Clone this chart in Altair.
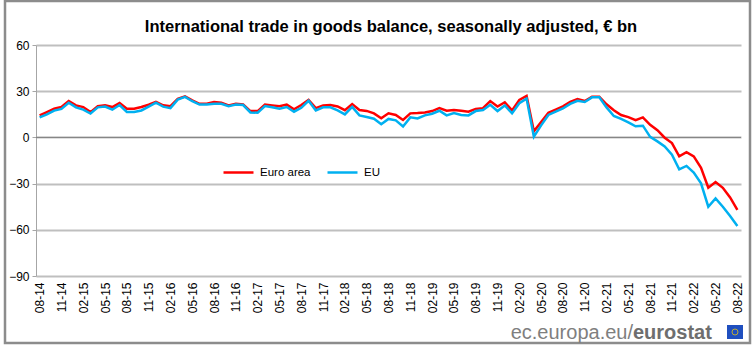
import altair as alt
import pandas as pd

# Monthly categories 08-14 ... 08-22
months = []
yy, mm = 14, 8
for _ in range(97):
    months.append(f"{mm:02d}-{yy:02d}")
    mm += 1
    if mm > 12:
        mm = 1
        yy += 1
tick_labels = months[::3]

title_text = "International trade in goods balance, seasonally adjusted, € bn"

euro_area = [
    14.3, 16.4, 18.6, 19.7, 23.6, 20.8, 19.7, 16.4, 20.3, 20.8, 19.7, 22.3, 18.6, 18.6, 19.7, 21.2,
    23.0, 20.8, 20.3, 25.1, 26.6, 24.0, 21.8, 21.8, 22.9, 22.5, 20.8, 21.8, 21.4, 17.1, 17.1, 21.4,
    20.8, 20.2, 21.3, 18.3, 21.0, 24.3, 19.0, 20.8, 21.0, 20.1, 17.7, 21.6, 17.8, 17.2, 15.6, 12.4,
    15.7, 14.6, 11.3, 15.6, 15.8, 16.2, 17.1, 19.0, 17.3, 17.8, 17.3, 16.7, 18.5, 19.0, 23.6, 20.0,
    22.8, 17.5, 24.3, 27.0, 4.0, 10.0, 16.0, 18.1, 20.2, 23.0, 24.9, 23.6, 26.4, 26.4, 21.5, 17.6,
    14.5, 13.2, 11.2, 13.0, 8.2, 4.7, -0.2, -3.7, -12.3, -9.6, -12.3, -19.8, -32.7, -29.0, -32.7, -39.0,
    -47.0,
]
eu = [
    13.0, 15.0, 17.4, 18.5, 22.5, 19.5, 18.0, 15.5, 19.5, 20.0, 18.0, 21.0, 16.5, 16.5, 17.5, 20.0,
    22.5, 20.0, 19.0, 24.5, 26.3, 23.5, 21.3, 21.3, 21.8, 21.8, 20.3, 21.3, 21.0, 16.2, 16.0, 20.3,
    19.6, 18.6, 19.7, 16.7, 19.2, 23.8, 17.5, 19.5, 19.5, 17.5, 14.9, 19.8, 14.3, 13.3, 12.1, 8.5,
    12.0, 11.1, 7.1, 13.0, 12.3, 14.3, 15.4, 17.3, 14.3, 15.8, 14.5, 14.3, 17.1, 17.8, 21.2, 17.1,
    20.7, 15.6, 22.2, 25.2, 0.5, 7.8, 14.6, 16.7, 18.8, 21.7, 23.8, 23.0, 26.0, 26.0, 19.5, 13.9,
    12.0, 9.8, 7.2, 7.6, 0.3, -2.6, -5.9, -11.3, -20.7, -18.5, -22.8, -29.8, -45.0, -39.6, -45.0, -51.0,
    -57.5,
]
series_names = ["Euro area", "EU"]
series_colors = ["#ff0000", "#00b0f0"]
y_ticks = [-90, -60, -30, 0, 30, 60]

df = pd.DataFrame({
    "month": months * 2,
    "value": euro_area + eu,
    "series": [series_names[0]] * len(months) + [series_names[1]] * len(months),
})

FONT = "Liberation Sans"
W, H = 705, 231

x_enc = alt.X(
    "month:O", sort=months,
    scale=alt.Scale(type="point", padding=0.5),
    axis=alt.Axis(values=tick_labels, labelAngle=270, ticks=False, domain=False, grid=False,
                  labelFontSize=12, labelFont=FONT, labelColor="black", labelPadding=6,
                  title=None),
)
y_axis = alt.Axis(values=y_ticks, grid=True, gridColor="#bfbfbf", gridWidth=2,
                  domain=True, domainColor="#a6a6a6", domainWidth=1,
                  ticks=True, tickColor="#a6a6a6", tickSize=4,
                  labelFontSize=12, labelFont=FONT, labelColor="black", labelPadding=3,
                  title=None)
y_scale = alt.Scale(domain=[-90, 60], nice=False, zero=False)
y_enc = alt.Y("value:Q", scale=y_scale, axis=y_axis)
color_enc = alt.Color(
    "series:N",
    scale=alt.Scale(domain=series_names, range=series_colors),
    legend=alt.Legend(orient="none", legendX=186, legendY=111, direction="horizontal",
                      title=None, symbolType="stroke", symbolSize=900, symbolStrokeWidth=2.5,
                      labelFontSize=11.5, labelFont=FONT, labelColor="black",
                      columnPadding=11, labelOffset=5, padding=0),
)

zero_rule = alt.Chart(pd.DataFrame({"value": [0]})).mark_rule(
    color="#808080", strokeWidth=1
).encode(y=y_enc)

base = alt.Chart(df)
red_line = base.transform_filter(alt.datum.series == series_names[0]).mark_line(
    strokeWidth=2.5).encode(x=x_enc, y=y_enc, color=color_enc)
blue_line = base.transform_filter(alt.datum.series == series_names[1]).mark_line(
    strokeWidth=2.5).encode(x=x_enc, y=y_enc, color=color_enc)

one = alt.Data(values=[{"k": 1}])
title_mark = alt.Chart(one).mark_text(align="center", baseline="middle", fontSize=16.5, font=FONT,
                                      fontWeight="bold", color="black").encode(
    x=alt.value(355), y=alt.value(-18), text=alt.value(title_text)
)
frame = alt.Chart(one).mark_rect(fillOpacity=0, stroke="#8c8c8c", strokeWidth=2.5).encode(
    x=alt.value(-31), x2=alt.value(714), y=alt.value(-44), y2=alt.value(298)
)
footer1 = alt.Chart(one).mark_text(align="right", baseline="alphabetic", fontSize=20, font=FONT,
                                   color="#7f7f7f").encode(
    x=alt.value(597), y=alt.value(294), text=alt.value("ec.europa.eu/")
)
footer2 = alt.Chart(one).mark_text(align="left", baseline="alphabetic", fontSize=20, font=FONT,
                                   fontWeight="bold", color="#6e6e6e").encode(
    x=alt.value(597), y=alt.value(294), text=alt.value("eurostat")
)
flag = alt.Chart(one).mark_rect(fill="#1f4fbf").encode(
    x=alt.value(691), x2=alt.value(707), y=alt.value(280), y2=alt.value(294)
)
flag_ring = alt.Chart(one).mark_point(shape="circle", size=36, stroke="#ffd200", strokeWidth=1,
                                      filled=False).encode(
    x=alt.value(699), y=alt.value(287)
)

chart = alt.layer(zero_rule, red_line, blue_line, title_mark, frame, footer1, footer2, flag,
                  flag_ring).properties(
    width=W, height=H,
    padding={"left": 36, "top": 45, "right": 15, "bottom": 77},
    autosize=alt.AutoSizeParams(type="none"),
    background="white",
).configure_view(stroke=None)

chart.save("out.html", embed_options={"renderer": "svg", "actions": False})
